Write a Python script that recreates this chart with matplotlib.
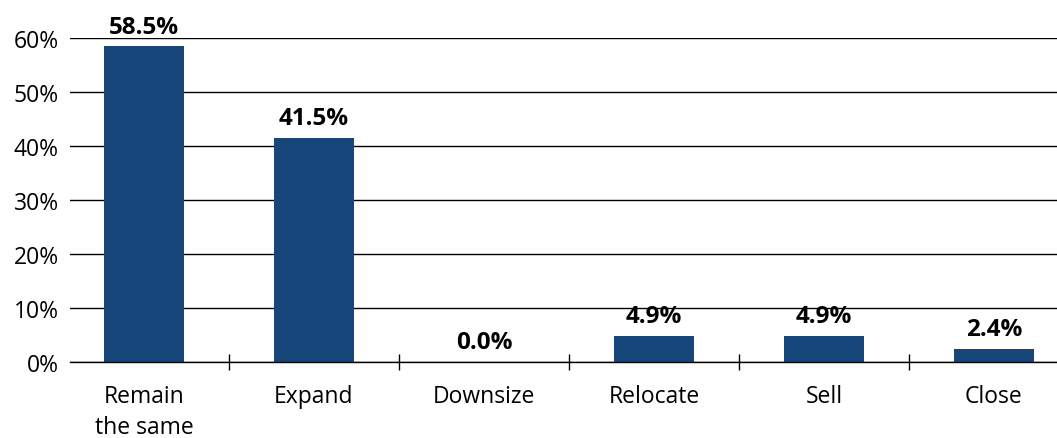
import matplotlib.pyplot as plt
from matplotlib.ticker import FixedLocator

plt.rcParams['font.family'] = ['Open Sans', 'DejaVu Sans']

categories = ["Remain\nthe same", "Expand", "Downsize", "Relocate", "Sell", "Close"]
values = [58.5, 41.5, 0.0, 4.9, 4.9, 2.4]
yticks = [0, 10, 20, 30, 40, 50, 60]

fig = plt.figure(figsize=(10.57, 4.39), dpi=100)
ax = fig.add_axes([70 / 1057, 1 - 363 / 439, 1 - 70 / 1057, (363 - 39) / 439])

x = list(range(len(categories)))
bars = ax.bar(x, values, width=0.47, color="#17467A", zorder=3)

for xi, v in zip(x, values):
    ax.text(xi, v + 1.4, f"{v:.1f}%", ha="center", va="bottom",
            fontsize=17.5, fontweight="bold", color="black")

ax.set_ylim(0, 60)
ax.set_xlim(-0.5 + 11 / 170, 5 + 63 / 170)
ax.set_yticks(yticks)
ax.set_yticklabels([f"{t}%" for t in yticks], fontsize=16.5)
ax.tick_params(axis="y", length=0, pad=8)
ax.yaxis.grid(True, color="black", linewidth=1.0, zorder=0)

ax.set_xticks(x)
ax.set_xticklabels(categories, fontsize=16.5, linespacing=1.35)
ax.tick_params(axis="x", which="major", length=0, pad=16)
ax.xaxis.set_minor_locator(FixedLocator([0.5, 1.5, 2.5, 3.5, 4.5]))
ax.tick_params(axis="x", which="minor", direction="inout", length=12, width=1, color="black")

for s in ["top", "right", "left"]:
    ax.spines[s].set_visible(False)
ax.spines["bottom"].set_linewidth(1.0)
ax.spines["bottom"].set_zorder(4)

fig.savefig("out.png", dpi=100)
